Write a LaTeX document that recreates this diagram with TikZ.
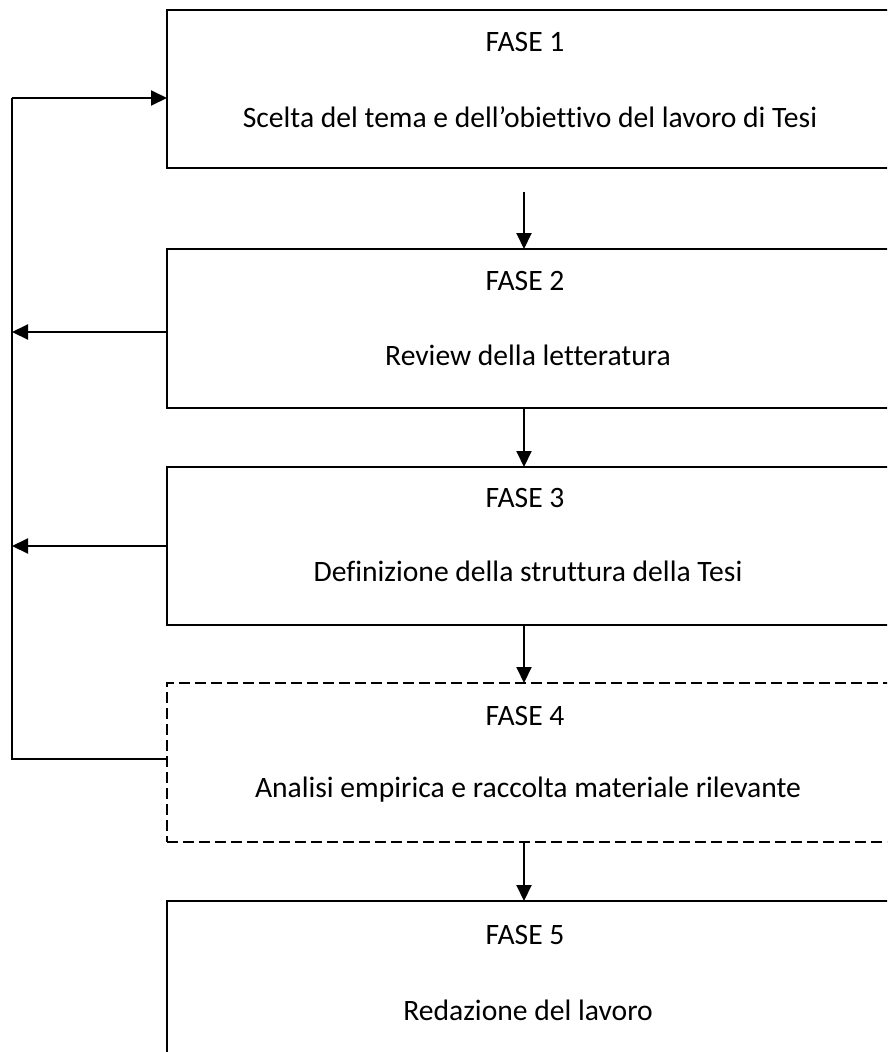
\documentclass[tikz,border=0pt]{standalone}
\usepackage{fontspec}
\setmainfont[Ligatures=NoCommon]{Carlito}
\usetikzlibrary{arrows.meta}
\begin{document}
\begin{tikzpicture}[x=1pt,y=-1pt,
  line width=2pt,
  box/.style={draw,rectangle,anchor=north west,minimum width=740pt,inner sep=0pt,outer sep=0pt},
  dashbox/.style={box,dash pattern=on 11pt off 5pt},
  lbl/.style={font=\fontsize{29.6}{34}\selectfont,inner sep=0pt,anchor=center},
  arr/.style={-{Triangle[length=16pt,width=15pt]}}]
\useasboundingbox (0,0) rectangle (887,1052);
\clip (0,0) rectangle (887,1052);
\node[box,minimum height=158pt] (b1) at (167,10) {};
\node[box,minimum height=159pt] (b2) at (167,249) {};
\node[box,minimum height=158pt] (b3) at (167,467) {};
\node[dashbox,minimum height=159pt] (b4) at (167,683) {};
\node[box,minimum height=180pt] (b5) at (167,901) {};
\node[lbl] (f1) at (525,42) {FASE 1};
\node[lbl] (t1) at (530,117) {Scelta del tema e dell’obiettivo del lavoro di Tesi};
\node[lbl] (f2) at (525,281) {FASE 2};
\node[lbl] (t2) at (528,355) {Review della letteratura};
\node[lbl] (f3) at (525,498) {FASE 3};
\node[lbl] (t3) at (528,571) {Definizione della struttura della Tesi};
\node[lbl] (f4) at (525,716) {FASE 4};
\node[lbl] (t4) at (528,790) {Analisi empirica e raccolta materiale rilevante};
\node[lbl] (f5) at (525,935) {FASE 5};
\node[lbl] (t5) at (528,1010) {Redazione del lavoro};
\coordinate (top) at (12,98);
\coordinate (bot) at (12,759);
\coordinate (s1) at (524,192);
\draw[arr] (top) -- (b1.west |- top);
\draw (top) -- (bot) -- (b4.west |- bot);
\draw[arr] (b2.west |- 0,332) -- (12,332);
\draw[arr] (b3.west |- 0,546) -- (12,546);
\draw[arr] (s1) -- (b2.north -| s1);
\draw[arr] (b2.south -| s1) -- (b3.north -| s1);
\draw[arr] (b3.south -| s1) -- (b4.north -| s1);
\draw[arr] (b4.south -| s1) -- (b5.north -| s1);
\end{tikzpicture}
\end{document}
